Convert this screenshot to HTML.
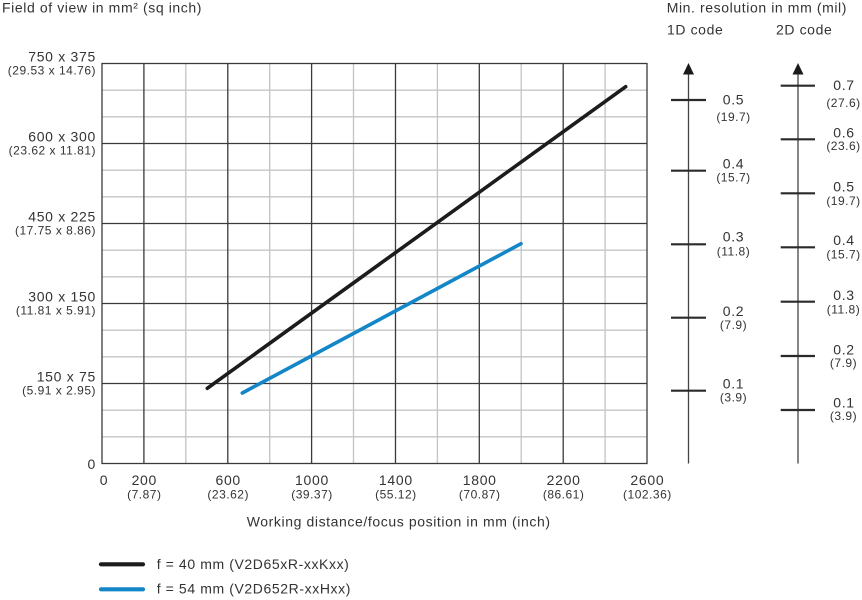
<!DOCTYPE html>
<html>
<head>
<meta charset="utf-8">
<style>
  html, body { margin:0; padding:0; background:#fff; }
  svg { display:block; }
  text { font-family: "Liberation Sans", Arial, sans-serif; fill:#333; }
  .m { font-size:14px; letter-spacing:0.7px; }
  .s { font-size:12px; letter-spacing:0.5px; }
  .t { font-size:14px; letter-spacing:0.6px; }
</style>
</head>
<body>
<svg width="862" height="600" viewBox="0 0 862 600" xmlns="http://www.w3.org/2000/svg">
  <!-- minor vertical grid -->
  <g stroke="#c4c4c4" stroke-width="1.3">
    <line x1="185.8" y1="63.5" x2="185.8" y2="463.5"/>
    <line x1="269.7" y1="63.5" x2="269.7" y2="463.5"/>
    <line x1="353.5" y1="63.5" x2="353.5" y2="463.5"/>
    <line x1="437.4" y1="63.5" x2="437.4" y2="463.5"/>
    <line x1="521.2" y1="63.5" x2="521.2" y2="463.5"/>
    <line x1="605.1" y1="63.5" x2="605.1" y2="463.5"/>
    <!-- minor horizontal -->
    <line x1="102" y1="436.8" x2="647" y2="436.8"/>
    <line x1="102" y1="410.2" x2="647" y2="410.2"/>
    <line x1="102" y1="356.8" x2="647" y2="356.8"/>
    <line x1="102" y1="330.2" x2="647" y2="330.2"/>
    <line x1="102" y1="276.8" x2="647" y2="276.8"/>
    <line x1="102" y1="250.2" x2="647" y2="250.2"/>
    <line x1="102" y1="196.8" x2="647" y2="196.8"/>
    <line x1="102" y1="170.2" x2="647" y2="170.2"/>
    <line x1="102" y1="116.8" x2="647" y2="116.8"/>
    <line x1="102" y1="90.2" x2="647" y2="90.2"/>
  </g>
  <!-- major grid -->
  <g stroke="#3a3a3a" stroke-width="1.3">
    <line x1="143.9" y1="63.5" x2="143.9" y2="463.5"/>
    <line x1="227.8" y1="63.5" x2="227.8" y2="463.5"/>
    <line x1="311.6" y1="63.5" x2="311.6" y2="463.5"/>
    <line x1="395.5" y1="63.5" x2="395.5" y2="463.5"/>
    <line x1="479.3" y1="63.5" x2="479.3" y2="463.5"/>
    <line x1="563.2" y1="63.5" x2="563.2" y2="463.5"/>
    <line x1="102" y1="383.5" x2="647" y2="383.5"/>
    <line x1="102" y1="303.5" x2="647" y2="303.5"/>
    <line x1="102" y1="223.5" x2="647" y2="223.5"/>
    <line x1="102" y1="143.5" x2="647" y2="143.5"/>
    <rect x="102" y="63.5" width="545" height="400" fill="none"/>
  </g>

  <!-- series -->
  <line x1="207.3" y1="388.3" x2="625.7" y2="86.7" stroke="#1c1c1c" stroke-width="3.6" stroke-linecap="round"/>
  <line x1="242.3" y1="393" x2="521" y2="243.7" stroke="#1386c8" stroke-width="3.6" stroke-linecap="round"/>

  <!-- titles -->
  <text class="t" x="2" y="12.7">Field of view in mm² (sq inch)</text>
  <text class="t" x="666.7" y="12.7">Min. resolution in mm (mil)</text>
  <text class="t" x="667" y="34.3">1D code</text>
  <text class="t" x="776" y="34.3">2D code</text>

  <!-- y labels -->
  <g text-anchor="end">
    <text class="m" x="96" y="61.5">750 x 375</text>
    <text class="s" x="96" y="74.5">(29.53 x 14.76)</text>
    <text class="m" x="96" y="141.5">600 x 300</text>
    <text class="s" x="96" y="154.5">(23.62 x 11.81)</text>
    <text class="m" x="96" y="221.5">450 x 225</text>
    <text class="s" x="96" y="234.5">(17.75 x 8.86)</text>
    <text class="m" x="96" y="301.5">300 x 150</text>
    <text class="s" x="96" y="314.5">(11.81 x 5.91)</text>
    <text class="m" x="96" y="381.5">150 x 75</text>
    <text class="s" x="96" y="394.5">(5.91 x 2.95)</text>
    <text class="m" x="96" y="469">0</text>
  </g>

  <!-- x labels -->
  <g text-anchor="middle">
    <text class="m" x="104" y="485">0</text>
    <text class="m" x="144.3" y="485">200</text>
    <text class="s" x="144.3" y="498.5">(7.87)</text>
    <text class="m" x="228.2" y="485">600</text>
    <text class="s" x="228.2" y="498.5">(23.62)</text>
    <text class="m" x="312" y="485">1000</text>
    <text class="s" x="312" y="498.5">(39.37)</text>
    <text class="m" x="395.9" y="485">1400</text>
    <text class="s" x="395.9" y="498.5">(55.12)</text>
    <text class="m" x="479.7" y="485">1800</text>
    <text class="s" x="479.7" y="498.5">(70.87)</text>
    <text class="m" x="563.6" y="485">2200</text>
    <text class="s" x="563.6" y="498.5">(86.61)</text>
    <text class="m" x="647.4" y="485">2600</text>
    <text class="s" x="647.4" y="498.5">(102.36)</text>
  </g>
  <text class="t" x="246.7" y="526.7">Working distance/focus position in mm (inch)</text>

  <!-- right axes -->
  <g stroke="#444" stroke-width="1.3">
    <line x1="688.5" y1="72" x2="688.5" y2="463.5"/>
    <line x1="798" y1="72" x2="798" y2="463.5"/>
  </g>
  <polygon points="688.5,63 683,74.5 694,74.5" fill="#1a1a1a"/>
  <polygon points="798,63 792.5,74.5 803.5,74.5" fill="#1a1a1a"/>
  <g stroke="#2a2a2a" stroke-width="2.2">
    <line x1="671" y1="100" x2="706" y2="100"/>
    <line x1="671" y1="170.7" x2="706" y2="170.7"/>
    <line x1="671" y1="244.3" x2="706" y2="244.3"/>
    <line x1="671" y1="317.7" x2="706" y2="317.7"/>
    <line x1="671" y1="390.7" x2="706" y2="390.7"/>
    <line x1="780.7" y1="85.7" x2="815" y2="85.7"/>
    <line x1="780.7" y1="139.3" x2="815" y2="139.3"/>
    <line x1="780.7" y1="193.3" x2="815" y2="193.3"/>
    <line x1="780.7" y1="247.3" x2="815" y2="247.3"/>
    <line x1="780.7" y1="301.7" x2="815" y2="301.7"/>
    <line x1="780.7" y1="356" x2="815" y2="356"/>
    <line x1="780.7" y1="410" x2="815" y2="410"/>
  </g>
  <g text-anchor="middle">
    <text class="m" x="733.5" y="104.3">0.5</text>
    <text class="s" x="733.5" y="121">(19.7)</text>
    <text class="m" x="733.5" y="168.3">0.4</text>
    <text class="s" x="733.5" y="181.5">(15.7)</text>
    <text class="m" x="733.5" y="241.7">0.3</text>
    <text class="s" x="733.5" y="255.5">(11.8)</text>
    <text class="m" x="733.5" y="316">0.2</text>
    <text class="s" x="733.5" y="329">(7.9)</text>
    <text class="m" x="733.5" y="388.3">0.1</text>
    <text class="s" x="733.5" y="401.5">(3.9)</text>

    <text class="m" x="844" y="90">0.7</text>
    <text class="s" x="843.5" y="106.8">(27.6)</text>
    <text class="m" x="844" y="137.7">0.6</text>
    <text class="s" x="843.5" y="150.2">(23.6)</text>
    <text class="m" x="844" y="191.7">0.5</text>
    <text class="s" x="843.5" y="205.2">(19.7)</text>
    <text class="m" x="844" y="245">0.4</text>
    <text class="s" x="843.5" y="258.5">(15.7)</text>
    <text class="m" x="844" y="300">0.3</text>
    <text class="s" x="843.5" y="313.5">(11.8)</text>
    <text class="m" x="844" y="354.3">0.2</text>
    <text class="s" x="843.5" y="366.8">(7.9)</text>
    <text class="m" x="844" y="407.3">0.1</text>
    <text class="s" x="843.5" y="420.2">(3.9)</text>
  </g>

  <!-- legend -->
  <line x1="101" y1="564.3" x2="143" y2="564.3" stroke="#1c1c1c" stroke-width="4.2" stroke-linecap="round"/>
  <line x1="101" y1="589.3" x2="143" y2="589.3" stroke="#1386c8" stroke-width="4.2" stroke-linecap="round"/>
  <text class="t" x="156.7" y="568.8">f = 40 mm (V2D65xR-xxKxx)</text>
  <text class="t" x="156.7" y="593.5">f = 54 mm (V2D652R-xxHxx)</text>
</svg>
</body>
</html>
